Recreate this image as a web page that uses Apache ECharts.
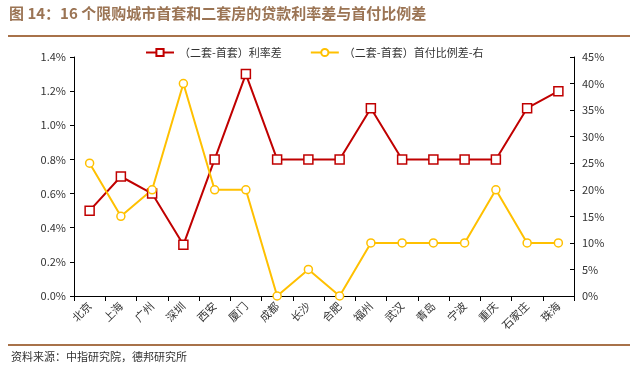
<!DOCTYPE html>
<html>
<head>
<meta charset="utf-8">
<script src="https://cdn.jsdelivr.net/npm/echarts@6/dist/echarts.min.js"></script>
<style>
  html, body { margin: 0; padding: 0; background: #fff; }
  #chart { width: 638px; height: 368px; }
</style>
</head>
<body>
<div id="chart"></div>
<script>
// 数据
const cities = ['北京', '上海', '广州', '深圳', '西安', '厦门', '成都', '长沙', '合肥', '福州', '武汉', '青岛', '宁波', '重庆', '石家庄', '珠海']
const rateDiff = [0.5, 0.7, 0.6, 0.3, 0.8, 1.3, 0.8, 0.8, 0.8, 1.1, 0.8, 0.8, 0.8, 0.8, 1.1, 1.2]
const downPayDiff = [25, 15, 20, 40, 20, 20, 0, 5, 0, 10, 10, 10, 10, 20, 10, 10]

const font = '"Noto Sans CJK SC", sans-serif'
const brown = '#9b7454'

const chart = echarts.init(document.getElementById('chart'))

const option = {
  animation: false,
  textStyle: { fontFamily: font },
  graphic: [
    {
      type: 'text', left: 9, top: 6,
      style: { text: '图 14：16 个限购城市首套和二套房的贷款利率差与首付比例差', fill: brown, font: 'bold 15px ' + font }
    },
    { type: 'line', shape: { x1: 8, y1: 36, x2: 630, y2: 36 }, style: { stroke: '#a8724a', lineWidth: 2 } },
    { type: 'line', shape: { x1: 8, y1: 345, x2: 630, y2: 345 }, style: { stroke: '#a8724a', lineWidth: 2 } },
    {
      type: 'text', left: 11, top: 351,
      style: { text: '资料来源：中指研究院，德邦研究所', fill: '#333', font: '11px ' + font }
    }
  ],
  legend: {
    top: 42,
    left: 140,
    itemGap: 28,
    itemWidth: 28,
    itemHeight: 9,
    textStyle: { fontSize: 11, color: '#333' },
    data: ['（二套-首套）利率差', '（二套-首套）首付比例差-右']
  },
  grid: { left: 74, right: 64, top: 57, bottom: 72 },
  xAxis: {
    type: 'category',
    data: cities,
    axisLine: { lineStyle: { color: '#000' } },
    axisTick: { show: true, length: 5, lineStyle: { color: '#000' } },
    axisLabel: { rotate: 45, color: '#333', fontSize: 11, interval: 0, margin: 8 }
  },
  yAxis: [
    {
      type: 'value', min: 0, max: 1.4, interval: 0.2,
      splitLine: { show: false },
      axisLine: { show: true, lineStyle: { color: '#000' } },
      axisTick: { show: true, length: 4, lineStyle: { color: '#000' } },
      axisLabel: { color: '#333', fontSize: 11, formatter: v => v.toFixed(1) + '%' }
    },
    {
      type: 'value', min: 0, max: 45, interval: 5,
      splitLine: { show: false },
      axisLine: { show: true, lineStyle: { color: '#000' } },
      axisTick: { show: true, inside: true, length: 4, lineStyle: { color: '#000' } },
      axisLabel: { color: '#333', fontSize: 11, formatter: '{value}%' }
    }
  ],
  series: [
    {
      name: '（二套-首套）利率差',
      type: 'line',
      data: rateDiff,
      yAxisIndex: 0,
      symbol: 'rect',
      symbolSize: 9,
      itemStyle: { color: '#fff', borderColor: '#c00000', borderWidth: 1.5 },
      lineStyle: { color: '#c00000', width: 2 }
    },
    {
      name: '（二套-首套）首付比例差-右',
      type: 'line',
      data: downPayDiff,
      yAxisIndex: 1,
      symbol: 'circle',
      symbolSize: 8,
      itemStyle: { color: '#fff', borderColor: '#ffc000', borderWidth: 1.5 },
      lineStyle: { color: '#ffc000', width: 2 }
    }
  ]
}

chart.setOption(option)
</script>
</body>
</html>
